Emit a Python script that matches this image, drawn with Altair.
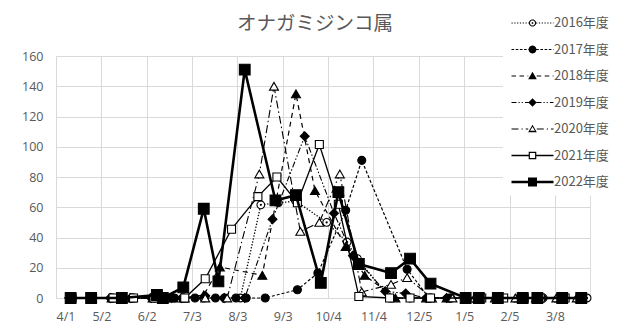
import math
from datetime import date

import altair as alt
import pandas as pd

# ---------------- data ----------------
TITLE = "オナガミジンコ属"
SERIES = ["2016年度", "2017年度", "2018年度", "2019年度", "2020年度", "2021年度", "2022年度"]
TICK_LABELS = ["4/1", "5/2", "6/2", "7/3", "8/3", "9/3", "10/4", "11/4", "12/5", "1/5", "2/5", "3/8"]

dates_2016 = ["4/12", "5/9", "5/23", "6/13", "6/27", "7/11", "7/25", "8/5", "8/19", "8/31", "9/12",
              "10/3", "10/17", "10/24", "11/15", "11/29", "12/13", "12/27", "1/17", "1/31", "2/14",
              "2/28", "3/14", "3/30"]
vals_2016 = [0, 0, 0, 0, 0, 0, 0, 0, 61.6, 63, 64, 50, 37, 26, 0, 0, 0, 0, 0, 0, 0, 0, 0, 0]

dates_2017 = ["4/12", "4/26", "5/10", "5/24", "6/7", "6/21", "7/5", "7/19", "8/2", "8/9", "8/22",
              "9/13", "9/27", "10/16", "10/27", "11/27", "12/12", "12/26", "1/16", "1/30", "2/13",
              "2/27", "3/13", "3/27"]
vals_2017 = [0, 0, 0, 0, 0, 0, 0, 0, 0, 0, 0, 5.5, 16.5, 58, 91, 19, 0, 0, 0, 0, 0, 0, 0, 0]

dates_2018 = ["4/11", "4/25", "5/9", "5/23", "6/6", "6/20", "6/27", "7/11", "7/22", "8/20", "9/12",
              "9/25", "10/16", "10/29", "11/19", "12/10", "12/24", "1/14", "1/28", "2/11", "2/25",
              "3/11", "3/25"]
vals_2018 = [0, 0, 0, 0, 0, 0, 0, 2, 20.5, 15, 135, 71, 34, 15, 0, 0, 0, 0, 0, 0, 0, 0, 0]

dates_2019 = ["4/10", "4/24", "5/8", "5/22", "6/5", "6/19", "6/26", "7/12", "7/25", "8/8", "8/27",
              "9/18", "10/8", "10/21", "11/12", "11/26", "12/10", "12/24", "1/14", "1/28", "2/11",
              "2/25", "3/10", "3/24"]
vals_2019 = [0, 0, 0, 0, 0, 0, 0, 1.5, 0, 0, 52, 107, 56, 28, 4.4, 3, 0, 0, 0, 0, 0, 0, 0, 0]

dates_2020 = ["6/14", "6/28", "7/12", "7/27", "8/18", "8/28", "9/15", "9/28", "10/12", "10/27",
              "11/16", "11/27", "12/14", "12/28", "1/12", "1/26", "2/9", "2/23", "3/9", "3/23"]
vals_2020 = [0, 0, 0, 0, 82, 140, 44, 50, 82, 4, 9, 13.5, 0, 0, 0, 0, 0, 0, 0, 0]

dates_2021 = ["4/12", "4/26", "5/10", "5/24", "6/7", "6/28", "7/12", "7/30", "8/17", "8/30", "9/13",
              "9/28", "10/11", "10/25", "11/15", "11/29", "12/13", "1/6", "1/17", "2/1", "2/15",
              "2/26", "3/15", "3/27"]
vals_2021 = [0, 0, 0, 0, 0, 0, 12.7, 45.5, 67, 80, 63, 101.5, 62, 1, 0, 0, 0, 0, 0, 0, 0, 0, 0, 0]

dates_2022 = ["4/11", "4/25", "5/16", "6/9", "6/13", "6/27", "7/11", "7/21", "8/8", "8/29", "9/12",
              "9/29", "10/11", "10/25", "11/16", "11/29", "12/13", "1/6", "1/15", "1/28", "2/14",
              "2/24", "3/13", "3/26"]
vals_2022 = [0, 0, 0, 2, 0, 7, 59, 11, 151, 64.5, 68, 10, 70, 22.5, 16.5, 26, 9.5, 0, 0, 0, 0, 0, 0, 0]

SERIES_DATA = [
    (dates_2016, vals_2016), (dates_2017, vals_2017), (dates_2018, vals_2018),
    (dates_2019, vals_2019), (dates_2020, vals_2020), (dates_2021, vals_2021),
    (dates_2022, vals_2022),
]

START = date(2022, 4, 1)


def day_of_fy(md):
    m, d = (int(p) for p in md.split("/"))
    y = 2022 if m >= 4 else 2023
    return (date(y, m, d) - START).days


rows = []
for name, (ds, vs) in zip(SERIES, SERIES_DATA):
    for i, (md, v) in enumerate(zip(ds, vs)):
        rows.append({"series": name, "date": md, "day": day_of_fy(md), "value": v, "order": i})
df = pd.DataFrame(rows)

TICK_DAYS = [day_of_fy(t) for t in TICK_LABELS]

# ---------------- styles ----------------
GRID = "#d9d9d9"
TXT = "#595959"
FONT = "Open Sans"
JFONT = "Noto Sans CJK JP"

LINE_STYLE = {
    "2016年度": dict(strokeWidth=1.3, strokeDash=[1.3, 1.7]),
    "2017年度": dict(strokeWidth=1.2, strokeDash=[3, 2]),
    "2018年度": dict(strokeWidth=1.2, strokeDash=[5, 4]),
    "2019年度": dict(strokeWidth=1.1, strokeDash=[6, 2, 1.5, 2, 1.5, 2]),
    "2020年度": dict(strokeWidth=1.1, strokeDash=[8, 3, 1.5, 3]),
    "2021年度": dict(strokeWidth=1.3),
    "2022年度": dict(strokeWidth=2.6),
}
POINT_STYLE = {
    "2016年度": dict(shape="circle", fill="white", size=60),
    "2017年度": dict(shape="circle", fill="black", size=64),
    "2018年度": dict(shape="triangle-up", fill="black", size=80),
    "2019年度": dict(shape="diamond", fill="black", size=80),
    "2020年度": dict(shape="triangle-up", fill="white", size=80),
    "2021年度": dict(shape="square", fill="white", size=64),
    "2022年度": dict(shape="square", fill="black", size=115),
}

# ---- legend symbols: custom paths (line + marker) in px, scaled to unit r ----
R = 4.0  # px per path unit (symbolSize = (2R)^2)
SHIFT = 17.0  # marker centre offset from symbol anchor


def fmt(v):
    return f"{v / R:.3f}"


def poly(pts, reverse=False):
    pts = list(pts)
    if reverse:
        pts = pts[::-1]
    s = "M" + "L".join(f"{fmt(x + SHIFT)},{fmt(y)}" for x, y in pts) + "Z"
    return s


def rect(x0, x1, h):
    return poly([(x0, -h), (x1, -h), (x1, h), (x0, h)])


def dashed(x0, x1, h, pattern):
    out = []
    x = x0
    k = 0
    while x < x1:
        seg = pattern[k % len(pattern)]
        if k % 2 == 0:
            out.append(rect(x, min(x + seg, x1), h))
        x += seg
        k += 1
    return "".join(out)


def line_part(pattern, h, gap):
    L = 21.0
    if pattern is None:
        return rect(-L, -gap, h) + rect(gap, L, h)
    return dashed(-L, -gap, h, pattern) + dashed(gap, L, h, pattern)


def circle_pts(r, n=24):
    return [(r * math.cos(2 * math.pi * i / n), r * math.sin(2 * math.pi * i / n)) for i in range(n)]


def tri_pts(s):
    return [(0, -s * 1.0), (s * 1.0, s * 0.75), (-s * 1.0, s * 0.75)]


def scale_pts(pts, k, cx=0.0, cy=0.0):
    return [(cx + (x - cx) * k, cy + (y - cy) * k) for x, y in pts]


SYMBOLS = [
    line_part([1.2, 1.6], 0.5, 3.6) + poly(circle_pts(3.6)) + poly(circle_pts(2.5), True) + poly(circle_pts(0.9)),
    line_part([2.6, 1.6], 0.55, 3.7) + poly(circle_pts(3.9)),
    line_part([4.5, 3.5], 0.55, 4.2) + poly(tri_pts(4.3)),
    line_part([5, 2, 1.2, 2, 1.2, 2], 0.5, 4.0) + poly([(0, -4.2), (4.2, 0), (0, 4.2), (-4.2, 0)]),
    line_part([7, 3, 1.2, 3], 0.5, 4.3) + poly(tri_pts(4.3)) + poly(scale_pts(tri_pts(4.3), 0.55, 0, 0.2), True),
    line_part(None, 0.65, 3.8) + poly([(-3.8, -3.8), (3.8, -3.8), (3.8, 3.8), (-3.8, 3.8)])
    + poly([(-2.6, -2.6), (2.6, -2.6), (2.6, 2.6), (-2.6, 2.6)], True),
    line_part(None, 1.3, 4.5) + poly([(-4.5, -4.5), (4.5, -4.5), (4.5, 4.5), (-4.5, 4.5)]),
]

# ---------------- encodings ----------------
label_arr = "[" + ",".join(f"'{t}'" for t in TICK_LABELS) + "]"
X = alt.X(
    "day:Q",
    scale=alt.Scale(domain=[0, 365], nice=False, zero=False),
    axis=alt.Axis(
        values=TICK_DAYS, labelExpr=f"{label_arr}[indexof({TICK_DAYS}, datum.value)]",
        title=None, grid=True, gridColor=GRID, domain=False, ticks=False,
        labelFont=FONT, labelFontSize=12.5, labelColor=TXT, labelPadding=12,
    ),
)
Y = alt.Y(
    "value:Q",
    scale=alt.Scale(domain=[0, 160], nice=False),
    axis=alt.Axis(
        values=list(range(0, 161, 20)), title=None, grid=True, gridColor=GRID,
        domain=False, ticks=False, labelFont=FONT, labelFontSize=12.5,
        labelColor=TXT, labelPadding=13,
    ),
)

layers = []
for s in SERIES:
    base = alt.Chart(df).transform_filter(alt.datum.series == s)
    layers.append(
        base.mark_line(color="black", **LINE_STYLE[s]).encode(x=X, y=Y, order="order:Q")
    )
    ps = POINT_STYLE[s]
    layers.append(
        base.mark_point(shape=ps["shape"], filled=True, fill=ps["fill"], stroke="black",
                        strokeWidth=1.1, size=ps["size"], opacity=1).encode(x=X, y=Y)
    )
    if s == "2016年度":
        layers.append(
            base.mark_point(shape="circle", filled=True, fill="black", size=5, opacity=1).encode(x=X, y=Y)
        )

legend_layer = (
    alt.Chart(df)
    .transform_filter("false")
    .mark_point(filled=True, color="black", opacity=1)
    .encode(
        x=X, y=Y,
        shape=alt.Shape(
            "series:N",
            scale=alt.Scale(domain=SERIES, range=SYMBOLS),
            legend=alt.Legend(
                title=None, orient="none", legendX=447, legendY=-45.5,
                direction="vertical", fillColor="white", padding=6,
                symbolSize=(2 * R) ** 2, symbolStrokeWidth=0, symbolFillColor="black",
                labelFont=JFONT, labelFontSize=13, labelColor=TXT,
                labelOffset=32, rowPadding=12.5, symbolOpacity=1,
            ),
        ),
    )
)

chart = (
    alt.layer(*layers, legend_layer)
    .resolve_scale(shape="independent")
    .properties(
        width=534, height=242,
        title=alt.Title(TITLE, font=JFONT, fontSize=19.5, fontWeight="normal", color=TXT,
                        anchor="middle", dx=-8, offset=0, dy=24),
        autosize=alt.AutoSizeParams(type="none"),
        padding={"left": 56, "top": 56, "right": 35, "bottom": 28},
    )
    .configure_view(stroke=None)
    .configure(background="white")
)

chart.save("out.html", embed_options={"renderer": "svg", "actions": False})
